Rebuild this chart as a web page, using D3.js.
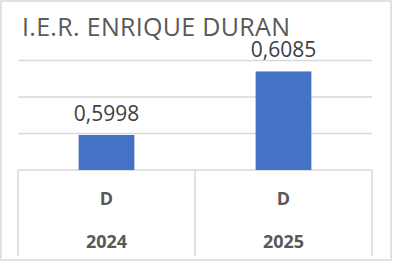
<!DOCTYPE html>
<html>
<head>
<meta charset="utf-8">
<script src="https://cdn.jsdelivr.net/npm/d3@7"></script>
<style>
  body { margin: 0; background: #fff; }
  text { font-family: "Open Sans", sans-serif; }
</style>
</head>
<body>
<script>
var title = "I.E.R. ENRIQUE DURAN";
var years = ["2024", "2025"];
var levels = ["D", "D"];
var values = [0.5998, 0.6085];
var gridTicks = [0.595, 0.600, 0.605, 0.610];

var W = 393, H = 262;
var svg = d3.select("body").append("svg")
    .attr("width", W).attr("height", H);

// outer frame
svg.append("rect")
    .attr("x", 1).attr("y", 1)
    .attr("width", 390).attr("height", 259)
    .style("fill", "#fff")
    .style("stroke", "#d9d9d9")
    .style("stroke-width", 1.5);

var x = d3.scaleBand().domain(years).range([18, 372]).padding(0);
var y = d3.scaleLinear().domain([0.595, 0.61]).range([170, 60.5]);

// gridlines
svg.selectAll(".grid").data(gridTicks).enter().append("line")
    .attr("class", "grid")
    .attr("x1", 18).attr("x2", 372)
    .attr("y1", function(d) { return y(d); })
    .attr("y2", function(d) { return y(d); })
    .style("stroke", "#d9d9d9")
    .style("stroke-width", 1.5);

// category separators
var seps = [18].concat(years.map(function(d) { return x(d) + x.bandwidth(); }));
svg.selectAll(".sep").data(seps).enter().append("line")
    .attr("x1", function(d) { return d; })
    .attr("x2", function(d) { return d; })
    .attr("y1", y(0.595)).attr("y2", 256)
    .style("stroke", "#d9d9d9")
    .style("stroke-width", 1.5);

var bw = x.bandwidth() * 0.315;
var data = years.map(function(d, i) { return {year: d, lev: levels[i], v: values[i]}; });

svg.selectAll(".bar").data(data).enter().append("rect")
    .attr("x", function(d) { return x(d.year) + x.bandwidth() / 2 - bw / 2; })
    .attr("width", bw)
    .attr("y", function(d) { return y(d.v); })
    .attr("height", function(d) { return y(0.595) - y(d.v); })
    .style("fill", "#4472c4");

svg.selectAll(".lab").data(data).enter().append("text")
    .attr("x", function(d) { return x(d.year) + x.bandwidth() / 2; })
    .attr("y", function(d) { return y(d.v) - 14; })
    .attr("text-anchor", "middle")
    .style("font-size", "21px")
    .style("fill", "#404040")
    .text(function(d) { return d.v.toFixed(4).replace(".", ","); });

svg.selectAll(".lev").data(data).enter().append("text")
    .attr("x", function(d) { return x(d.year) + x.bandwidth() / 2; })
    .attr("y", 205)
    .attr("text-anchor", "middle")
    .style("font-size", "18px")
    .style("font-weight", "bold")
    .style("fill", "#595959")
    .text(function(d) { return d.lev; });

svg.selectAll(".yr").data(data).enter().append("text")
    .attr("x", function(d) { return x(d.year) + x.bandwidth() / 2; })
    .attr("y", 248)
    .attr("text-anchor", "middle")
    .style("font-size", "18px")
    .style("font-weight", "bold")
    .style("fill", "#595959")
    .text(function(d) { return d.year; });

svg.append("text")
    .attr("x", 22).attr("y", 36)
    .attr("textLength", 268)
    .attr("lengthAdjust", "spacing")
    .style("font-size", "25px")
    .style("fill", "#595959")
    .text(title);
</script>
</body>
</html>
